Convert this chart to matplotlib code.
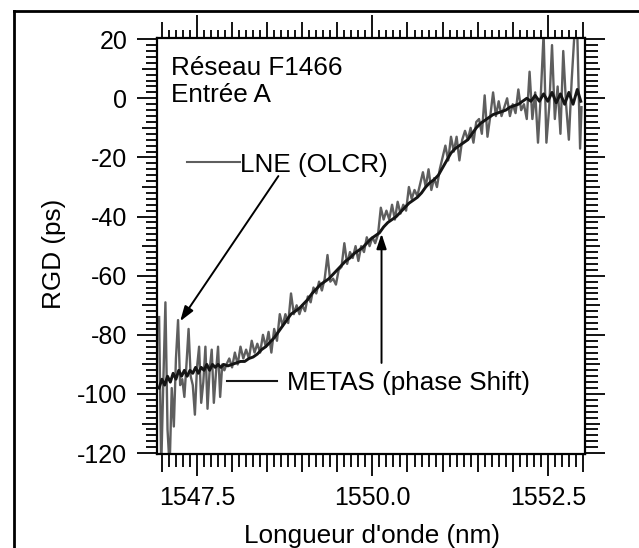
import matplotlib
matplotlib.use("Agg")
import matplotlib.pyplot as plt
from matplotlib.lines import Line2D
from matplotlib.ticker import MultipleLocator, FuncFormatter

plt.rcParams['font.family'] = ['Liberation Sans', 'DejaVu Sans']
plt.rcParams['axes.unicode_minus'] = False

# LNE (OLCR) measurement, gray noisy trace
lne_wl = [1546.96, 1546.99, 1547.02, 1547.05, 1547.08, 1547.11, 1547.14, 1547.17,
          1547.20, 1547.23, 1547.26, 1547.29, 1547.32, 1547.35, 1547.38, 1547.41,
          1547.44, 1547.47, 1547.50, 1547.53, 1547.56, 1547.59, 1547.62, 1547.65,
          1547.68, 1547.71, 1547.74, 1547.77, 1547.80, 1547.83, 1547.86, 1547.89,
          1547.92, 1547.96, 1548.00, 1548.04, 1548.08, 1548.12, 1548.16, 1548.20,
          1548.24, 1548.28, 1548.32, 1548.36, 1548.40, 1548.44, 1548.48, 1548.52,
          1548.56, 1548.60, 1548.64, 1548.68, 1548.72, 1548.76, 1548.80, 1548.84,
          1548.88, 1548.92, 1548.96, 1549.00, 1549.04, 1549.08, 1549.12, 1549.16,
          1549.20, 1549.24, 1549.28, 1549.32, 1549.36, 1549.40, 1549.44, 1549.48,
          1549.52, 1549.56, 1549.60, 1549.64, 1549.68, 1549.72, 1549.76, 1549.80,
          1549.84, 1549.88, 1549.92, 1549.96, 1550.00, 1550.04, 1550.08, 1550.12,
          1550.16, 1550.20, 1550.24, 1550.28, 1550.32, 1550.36, 1550.40, 1550.44,
          1550.48, 1550.52, 1550.56, 1550.60, 1550.64, 1550.68, 1550.72, 1550.76,
          1550.80, 1550.84, 1550.88, 1550.92, 1550.96, 1551.00, 1551.04, 1551.08,
          1551.12, 1551.16, 1551.20, 1551.24, 1551.28, 1551.32, 1551.36, 1551.40,
          1551.44, 1551.48, 1551.52, 1551.56, 1551.60, 1551.64, 1551.68, 1551.72,
          1551.76, 1551.80, 1551.84, 1551.88, 1551.92, 1551.96, 1552.00, 1552.04,
          1552.08, 1552.12, 1552.16, 1552.20, 1552.24, 1552.28, 1552.32, 1552.36,
          1552.40, 1552.44, 1552.48, 1552.52, 1552.56, 1552.60, 1552.64, 1552.68,
          1552.72, 1552.76, 1552.80, 1552.84, 1552.88, 1552.92, 1552.96, 1552.98]
lne_rgd = [-74, -125, -96, -69, -112, -125, -98, -111,
           -88, -75, -97, -95, -101, -90, -78, -94,
           -97, -107, -91, -84, -103, -96, -84, -105,
           -92, -85, -103, -93, -84, -101, -90, -92,
           -90, -88, -91, -86, -90, -84, -88, -85,
           -88, -82, -86, -83, -86, -80, -84, -79,
           -86, -78, -82, -73, -77, -73, -76, -66,
           -73, -70, -73, -70, -72, -67, -69, -64,
           -66, -62, -65, -61, -53, -62, -61, -63,
           -58, -57, -49, -56, -52, -54, -50, -55,
           -50, -52, -47, -50, -47, -49, -46, -37,
           -41, -38, -41, -36, -41, -35, -39, -36,
           -38, -30, -34, -31, -33, -29, -25, -30,
           -24, -31, -27, -30, -24, -20, -16, -21,
           -13, -18, -13, -21, -14, -11, -14, -10,
           -15, -8, -7, -12, 1, -13, -6, 2,
           -6, -1, -6, -3, 0, -6, -2, -5,
           3, -4, -2, -7, 9, -7, 2, -15,
           1, 22, -15, -3, 18, -7, 4, -12,
           16, -2, -14, 6, 22, 22, -17, -3]

# METAS (phase shift) measurement, black smoother trace
metas_wl = [1546.96, 1547.00, 1547.04, 1547.08, 1547.12, 1547.16, 1547.20, 1547.24,
            1547.28, 1547.32, 1547.36, 1547.40, 1547.44, 1547.48, 1547.52, 1547.56,
            1547.60, 1547.64, 1547.68, 1547.72, 1547.76, 1547.80, 1547.84, 1547.88,
            1547.94, 1548.00, 1548.06, 1548.12, 1548.18, 1548.24, 1548.30, 1548.36,
            1548.42, 1548.48, 1548.54, 1548.60, 1548.66, 1548.72, 1548.78, 1548.84,
            1548.90, 1548.96, 1549.02, 1549.08, 1549.14, 1549.20, 1549.26, 1549.32,
            1549.38, 1549.44, 1549.50, 1549.56, 1549.62, 1549.68, 1549.74, 1549.80,
            1549.86, 1549.92, 1549.98, 1550.04, 1550.10, 1550.16, 1550.22, 1550.28,
            1550.34, 1550.40, 1550.46, 1550.52, 1550.58, 1550.64, 1550.70, 1550.76,
            1550.82, 1550.88, 1550.94, 1551.00, 1551.06, 1551.12, 1551.18, 1551.24,
            1551.30, 1551.36, 1551.42, 1551.48, 1551.54, 1551.60, 1551.66, 1551.72,
            1551.78, 1551.84, 1551.90, 1551.96, 1552.02, 1552.08, 1552.14, 1552.20,
            1552.26, 1552.32, 1552.38, 1552.44, 1552.50, 1552.56, 1552.62, 1552.68,
            1552.74, 1552.80, 1552.86, 1552.92, 1552.97]
metas_rgd = [-98, -95, -97, -94, -96, -93, -95, -92,
             -94, -92, -94, -92, -93, -91, -93, -91,
             -92, -90, -92, -90, -91, -90, -91, -90,
             -90.5, -90, -89.5, -89, -89, -88, -87.5, -86.5,
             -85, -84, -82.5, -81, -79, -77, -75, -73,
             -72, -71, -69.5, -68, -66, -64.5, -63, -62,
             -61, -59.5, -58, -56.5, -55, -54, -52.5, -51.5,
             -50.5, -49, -47.5, -46.5, -45.5, -43.5, -42, -41,
             -40, -38.5, -37, -35.5, -34.5, -33.5, -32, -30,
             -28.5, -27.5, -26, -23.5, -21, -18.5, -17, -16,
             -15, -14, -12, -10, -8.5, -7.5, -6.5, -5.5,
             -5, -4.5, -4, -3, -2.5, -2, -1, 0,
             -1, 1, -1, 1.5, -1, 2, -1.5, 1.5,
             -2, 2, -2, 3, -1]

yticks_lab = [20, 0, -20, -40, -60, -80, -100, -120]
xticks_lab = [1547.5, 1550.0, 1552.5]

fig = plt.figure(figsize=(6.39, 5.48), dpi=100)
ax = fig.add_axes([157 / 639, 1 - 454 / 548, 428 / 639, (454 - 38.3) / 548])

ax.plot(lne_wl, lne_rgd, color='#5e5e5e', lw=1.7, zorder=2)
ax.plot(metas_wl, metas_rgd, color='#151515', lw=2.1, zorder=3)

ax.set_xlim(1546.93, 1553.03)
ax.set_ylim(-120.3, 20.3)

# axis ticks, Igor style: labelled majors, medium and minor ticks on all four sides
ax.xaxis.set_major_locator(MultipleLocator(0.5))
ax.xaxis.set_minor_locator(MultipleLocator(0.1))
ax.yaxis.set_major_locator(MultipleLocator(10))
ax.yaxis.set_minor_locator(MultipleLocator(2))


def xfmt(v, pos):
    for t in xticks_lab:
        if abs(v - t) < 1e-6:
            return f"{t:.1f}"
    return ""


def yfmt(v, pos):
    for t in yticks_lab:
        if abs(v - t) < 1e-6:
            return f"{t:d}"
    return ""


ax.xaxis.set_major_formatter(FuncFormatter(xfmt))
ax.yaxis.set_major_formatter(FuncFormatter(yfmt))

ax.tick_params(which='both', direction='out', top=True, right=True, width=1.3,
               color='black', labelsize=18)
ax.tick_params(axis='x', which='major', length=15.8, pad=7)
ax.tick_params(axis='y', which='major', length=14.4, pad=7)
ax.tick_params(axis='x', which='minor', length=9.4)
ax.tick_params(axis='y', which='minor', length=8.2)
for s in ax.spines.values():
    s.set_linewidth(1.6)

fig.canvas.draw()
for tick, v in zip(ax.xaxis.get_major_ticks(), ax.xaxis.get_majorticklocs()):
    lab = any(abs(v - t) < 1e-6 for t in xticks_lab)
    tick.tick1line.set_markersize(15.8 if lab else 13)
    tick.tick2line.set_markersize(16.5 if lab else 11.5)
for tick in ax.xaxis.get_minor_ticks():
    tick.tick2line.set_markersize(5.8)
for tick, v in zip(ax.yaxis.get_major_ticks(), ax.yaxis.get_majorticklocs()):
    lab = any(abs(v - t) < 1e-6 for t in yticks_lab)
    tick.tick1line.set_markersize(14.4 if lab else 10.8)
    tick.tick2line.set_markersize(14.4 if lab else 10.8)
for tick in ax.yaxis.get_minor_ticks():
    tick.tick2line.set_markersize(9.4)

# texts and annotations
fs = 18.8
ax.text(1547.13, 7.9, "Réseau F1466", fontsize=fs, va='baseline')
ax.text(1547.13, -1.2, "Entrée A", fontsize=fs, va='baseline')

ax.plot([1547.36, 1548.11], [-21.5, -21.5], color='#5e5e5e', lw=1.5)
ax.text(1548.12, -24.8, "LNE (OLCR)", fontsize=fs, va='baseline')
ax.annotate('', xy=(1547.26, -75.4), xytext=(1548.66, -26.3),
            arrowprops=dict(arrowstyle='-|>,head_length=0.6,head_width=0.2',
                            color='black', lw=1.4, shrinkA=0, shrinkB=0,
                            mutation_scale=15))

ax.plot([1547.93, 1548.64], [-95.6, -95.6], color='#151515', lw=1.5)
ax.text(1548.78, -98.5, "METAS (phase Shift)", fontsize=fs, va='baseline')
ax.annotate('', xy=(1550.13, -45.8), xytext=(1550.13, -89.5),
            arrowprops=dict(arrowstyle='-|>,head_length=0.6,head_width=0.2',
                            color='black', lw=1.4, shrinkA=0, shrinkB=0,
                            mutation_scale=15))

fig.text(54.5 / 639, 1 - 254 / 548, "RGD (ps)", fontsize=fs, rotation=90,
         ha='center', va='center')
fig.text(372 / 639, 1 - 543 / 548, "Longueur d'onde (nm)", fontsize=fs,
         ha='center', va='baseline')

# outer frame of the figure (cut at right and bottom)
fig.add_artist(Line2D([13.8 / 639, 13.8 / 639], [0, 1 - 10.7 / 548],
                      transform=fig.transFigure, color='black', lw=2,
                      solid_capstyle='projecting'))
fig.add_artist(Line2D([13.8 / 639, 1], [1 - 10.7 / 548, 1 - 10.7 / 548],
                      transform=fig.transFigure, color='black', lw=2,
                      solid_capstyle='projecting'))

fig.savefig("out.png", dpi=100)
